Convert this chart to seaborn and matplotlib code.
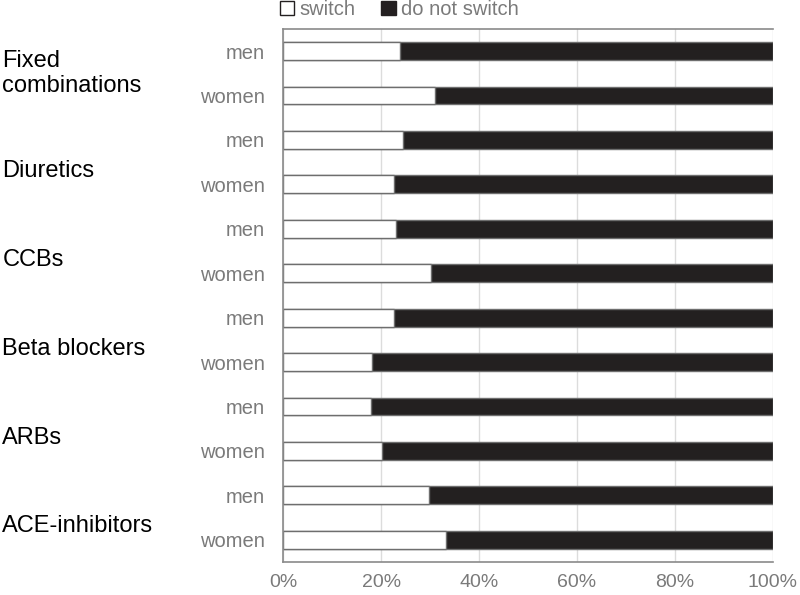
import seaborn as sns
import pandas as pd
import matplotlib.pyplot as plt
from matplotlib.patches import Patch
from matplotlib.transforms import blended_transform_factory

drugs = ["Fixed\ncombinations", "Diuretics", "CCBs", "Beta blockers", "ARBs", "ACE-inhibitors"]
sexes = ["men", "women"]
switch_men = [23.9, 24.5, 23.0, 22.6, 17.9, 29.8]
switch_women = [31.0, 22.6, 30.2, 18.2, 20.1, 33.3]

rows = []
for d, m, w in zip(drugs, switch_men, switch_women):
    rows.append({"row": d + "|men", "drug": d, "sex": "men", "switch": m, "total": 100})
    rows.append({"row": d + "|women", "drug": d, "sex": "women", "switch": w, "total": 100})
df = pd.DataFrame(rows)

sns.set_style("white")
plt.rcParams["font.family"] = ["Liberation Sans", "DejaVu Sans"]

fig = plt.figure(figsize=(8, 5.95), dpi=100)
ax = fig.add_axes([0.354, 0.0555, 0.612, 0.896])

edge = "#6e6e6e"
sns.barplot(data=df, y="row", x="total", color="#231f20", width=0.4,
            edgecolor=edge, linewidth=1.0, ax=ax, orient="h")
sns.barplot(data=df, y="row", x="switch", color="white", width=0.4,
            edgecolor=edge, linewidth=1.0, ax=ax, orient="h")

ax.set_xlim(0, 100)
ax.set_ylim(len(df) - 0.5, -0.5)
ax.set_xticks([0, 20, 40, 60, 80, 100])
ax.set_xticklabels([f"{v}%" for v in [0, 20, 40, 60, 80, 100]])
ax.set_yticks(range(len(df)))
ax.set_yticklabels(df["sex"])
ax.set_xlabel("")
ax.set_ylabel("")
ax.grid(axis="x", color="#dcdcdc", linewidth=1)
ax.set_axisbelow(True)
for s in ["left", "bottom", "top"]:
    ax.spines[s].set_color("#8a8a8a")
    ax.spines[s].set_linewidth(1.2)
ax.spines["right"].set_visible(False)
ax.tick_params(axis="y", length=0, pad=13, labelsize=14.5, labelcolor="#7a7a7a")
ax.tick_params(axis="x", length=0, pad=9, labelsize=14, labelcolor="#7a7a7a")

trans = blended_transform_factory(fig.transFigure, ax.transData)
for i, d in enumerate(drugs):
    yy = 2 * i + 0.5 + (0.0 if i == 0 else 0.2)
    ax.text(0.003, yy, d, transform=trans, ha="left", va="center",
            fontsize=17, color="black", linespacing=1.15)

handles = [Patch(facecolor="white", edgecolor="#231f20", label="switch"),
           Patch(facecolor="#231f20", edgecolor="#231f20", label="do not switch")]
leg = fig.legend(handles=handles, loc="center", bbox_to_anchor=(0.499, 0.984), ncol=2,
                 frameon=False, fontsize=14.5, handlelength=0.7, handleheight=0.7,
                 handletextpad=0.25, columnspacing=1.3, borderpad=0)
for t in leg.get_texts():
    t.set_color("#7a7a7a")

fig.savefig("out.png", dpi=100)
